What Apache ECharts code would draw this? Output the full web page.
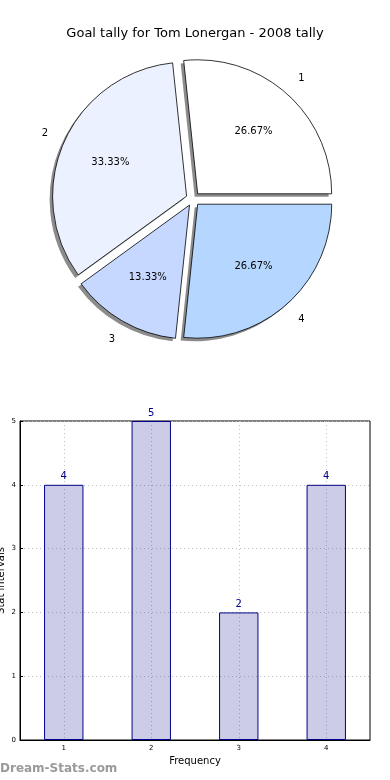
<!DOCTYPE html>
<html><head><meta charset="utf-8">
<script src="https://cdn.jsdelivr.net/npm/echarts@6/dist/echarts.min.js"></script>
<style>html,body{margin:0;padding:0;background:#fff}#c{width:390px;height:780px}</style>
</head><body><div id="c"></div>
<script>
var titleText = 'Goal tally for Tom Lonergan - 2008 tally';
var pieNames = ['1', '2', '3', '4'];
var pieValues = [4, 5, 2, 4];
var pieColors = ['#ffffff', '#ebf1ff', '#c6d8ff', '#b5d7ff'];
var barCategories = ['1', '2', '3', '4'];
var barValues = [4, 5, 2, 4];
var yTicks = [0, 1, 2, 3, 4, 5];

var total = pieValues.reduce(function (a, b) { return a + b; }, 0);
var R = 134, OFF = 7, CX = 193, CY = 199;
function pieData(kind) {
  return pieNames.map(function (n, i) {
    var st;
    if (kind === 'main') st = { color: pieColors[i], borderColor: '#000', borderWidth: 0.8 };
    else if (kind === 'shadow') st = { color: 'rgba(0,0,0,0.45)', borderWidth: 0 };
    else st = { color: 'rgba(0,0,0,0)', borderWidth: 0, borderColor: 'rgba(0,0,0,0)' };
    return { name: n, value: pieValues[i], selected: true, itemStyle: st };
  });
}
function pieSeries(kind, center, radius, z, label) {
  return {
    type: 'pie', center: center, radius: radius, startAngle: 0, clockwise: false,
    selectedMode: 'multiple', selectedOffset: OFF, silent: true, z: z,
    avoidLabelOverlap: false,
    label: label || { show: false }, labelLine: { show: false },
    emphasis: { disabled: true },
    select: { itemStyle: kind === 'main' ? { borderColor: '#000', borderWidth: 0.8 } : { borderWidth: 0 } },
    data: pieData(kind)
  };
}
var chart = echarts.init(document.getElementById('c'), null, { renderer: 'canvas' });
chart.setOption({
  animation: false,
  title: {
    text: titleText, left: 'center', top: 22,
    textStyle: { fontFamily: 'DejaVu Sans', fontSize: 13, fontWeight: 'normal', color: '#000' }
  },
  graphic: [{
    type: 'text', left: 0, top: 763,
    style: { text: 'Dream-Stats.com', font: 'bold 12px "DejaVu Sans"', fill: '#9a9a9a' }
  }],
  grid: { left: 20, right: 20, top: 421, bottom: 40, containLabel: false, outerBoundsMode: 'none',
    show: true, borderColor: '#000', borderWidth: 1, backgroundColor: 'transparent' },
  xAxis: {
    type: 'category', data: barCategories,
    name: 'Frequency', nameLocation: 'middle', nameGap: 16, nameMoveOverlap: false,
    nameTextStyle: { fontFamily: 'DejaVu Sans', fontSize: 10, color: '#000' },
    axisLine: { lineStyle: { color: '#000' } },
    axisTick: { alignWithLabel: true, inside: true, length: 3, lineStyle: { color: '#000' } },
    axisLabel: { fontFamily: 'DejaVu Sans', fontSize: 7, color: '#000', margin: 5 },
    splitLine: { show: true, alignWithLabel: true, lineStyle: { color: '#c0c0c0', type: [1, 3] } }
  },
  yAxis: {
    type: 'value', min: 0, max: 5, interval: 1,
    name: 'Stat intervals', nameLocation: 'middle', nameGap: 14, nameRotate: 90, nameMoveOverlap: false,
    nameTextStyle: { fontFamily: 'DejaVu Sans', fontSize: 10, color: '#000' },
    axisLine: { show: true, lineStyle: { color: '#000' } },
    axisTick: { show: true, inside: true, length: 3, lineStyle: { color: '#000' } },
    axisLabel: { fontFamily: 'DejaVu Sans', fontSize: 7, color: '#000', margin: 4,
      formatter: function (v) { return yTicks.indexOf(v) >= 0 ? String(v) : ''; } },
    splitLine: { show: true, lineStyle: { color: '#c0c0c0', type: [1, 3] } }
  },
  series: [
    pieSeries('shadow', [CX - 3, CY + 3], [0, R], 1),
    pieSeries('main', [CX, CY], [0, R], 2),
    pieSeries('label', [CX, CY], [0, R * 1.2], 3, {
      show: true, position: 'inside', fontFamily: 'DejaVu Sans', fontSize: 10, color: '#000',
      formatter: function (p) { return (p.value / total * 100).toFixed(2) + '%'; } }),
    pieSeries('label', [CX, CY], [R, R * 1.27], 3, {
      show: true, position: 'inside', fontFamily: 'DejaVu Sans', fontSize: 10, color: '#000',
      formatter: '{b}' }),
    {
      type: 'bar', data: barValues, barWidth: '45%',
      itemStyle: { color: 'rgba(0,0,128,0.2)', borderColor: '#00008b', borderWidth: 1 },
      label: { show: true, position: 'top', distance: 3, fontFamily: 'DejaVu Sans', fontSize: 10, color: '#00008b' },
      emphasis: { disabled: true }
    }
  ]
});
</script></body></html>
